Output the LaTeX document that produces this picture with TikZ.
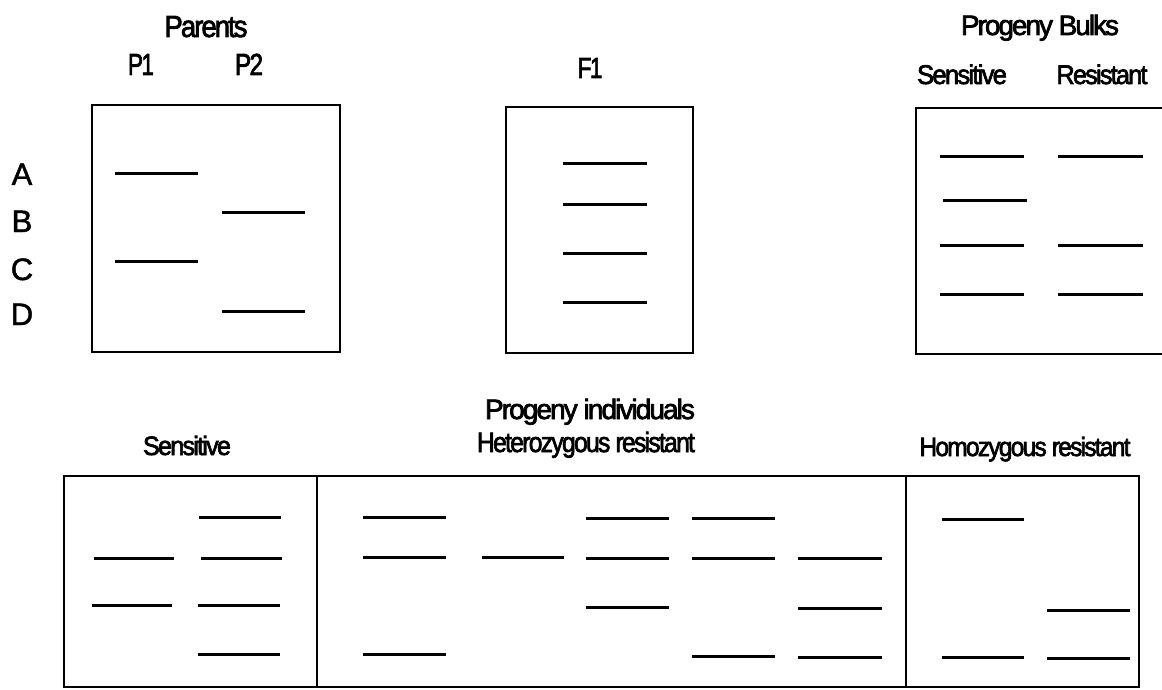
\documentclass[tikz,border=0pt]{standalone}
\usepackage{fontspec}
\usepackage{graphicx}
\setmainfont{Liberation Sans}
\newfontfamily\tightfont[LetterSpace=-7,FakeBold=2.5]{Liberation Sans}
\newfontfamily\lanefont[FakeBold=1.5]{Liberation Sans}
% label squeezed to a given width (in pt), height kept
\newcommand\fitlabel[2]{\resizebox{#1pt}{\height}{\tightfont #2}}

\tikzset{
  band/.style={line width=3pt},
  gel/.style={line width=2.4pt},
  lbl/.style={inner sep=0pt, anchor=base, font=\fontsize{#1}{#1}\selectfont},
  lbl/.default=28,
  lane/.style={inner sep=0pt, anchor=base, font=\fontsize{31}{33}\selectfont\lanefont},
}
% one band: x-start, x-end, y
\newcommand\bandline[3]{\draw[band] (#1,#3) -- (#2,#3);}

\begin{document}
\begin{tikzpicture}[x=1pt,y=-1pt]
\useasboundingbox (0,0) rectangle (1162,690);

% ---------- Parents ----------
\node[lbl=30.5] (parents) at (206,37) {\fitlabel{83}{Parents}};
\node[lbl=30.5] (p1) at (141,75) {\fitlabel{26}{P1}};
\node[lbl=30.5] (p2) at (249,75) {\fitlabel{28}{P2}};
\node[lane] (la) at (22,185) {A};
\node[lane] (lb) at (22,232) {B};
\node[lane] (lc) at (22,280) {C};
\node[lane] (ld) at (22,325) {D};
\draw[gel] (92,105) rectangle (340,352);
\bandline{115}{198}{173}
\bandline{115}{198}{261}
\bandline{222}{305}{212}
\bandline{222}{305}{311}

% ---------- F1 ----------
\node[lbl=29] (f1) at (590,78) {\fitlabel{25}{F1}};
\draw[gel] (506,107) rectangle (693,353);
\bandline{563}{647}{164}
\bandline{563}{647}{204}
\bandline{563}{647}{253}
\bandline{563}{647}{302}

% ---------- Progeny bulks ----------
\node[lbl=28] (bulks) at (1040,35) {\fitlabel{158}{Progeny Bulks}};
\node[lbl=27] (bsens) at (962,84) {\fitlabel{90}{Sensitive}};
\node[lbl=27] (bres) at (1102,84) {\fitlabel{91}{Resistant}};
\draw[gel] (1175,108) -- (916,108) -- (916,354) -- (1175,354);
\bandline{940}{1024}{157}
\bandline{943}{1027}{200}
\bandline{940}{1024}{245}
\bandline{940}{1024}{294}
\bandline{1058}{1143}{157}
\bandline{1058}{1143}{245}
\bandline{1058}{1143}{294}

% ---------- Progeny individuals ----------
\node[lbl=28] (indiv) at (590,419) {\fitlabel{210}{Progeny individuals}};
\node[lbl=28] (het) at (586,452) {\fitlabel{218}{Heterozygous resistant}};
\node[lbl=26.5] (isens) at (187,455) {\fitlabel{88}{Sensitive}};
\node[lbl=26.5] (homo) at (1025,456) {\fitlabel{211}{Homozygous resistant}};
\draw[gel] (64,476) rectangle (1139,687);
\draw[gel] (317,476) -- (317,687);
\draw[gel] (906,476) -- (906,687);

% sensitive individuals
\bandline{94}{174}{558}
\bandline{92}{172}{605}
\bandline{199}{281}{517}
\bandline{201}{282}{558}
\bandline{198}{280}{605}
\bandline{198}{280}{654}

% heterozygous resistant individuals
\bandline{363}{446}{517}
\bandline{363}{446}{557}
\bandline{363}{446}{654}
\bandline{482}{564}{557}
\bandline{586}{669}{518}
\bandline{586}{669}{558}
\bandline{586}{669}{607}
\bandline{692}{775}{518}
\bandline{692}{775}{558}
\bandline{692}{775}{656}
\bandline{798}{882}{558}
\bandline{798}{882}{608}
\bandline{798}{882}{657}

% homozygous resistant individuals
\bandline{942}{1024}{519}
\bandline{942}{1024}{657}
\bandline{1047}{1130}{610}
\bandline{1047}{1130}{658}
\end{tikzpicture}
\end{document}
